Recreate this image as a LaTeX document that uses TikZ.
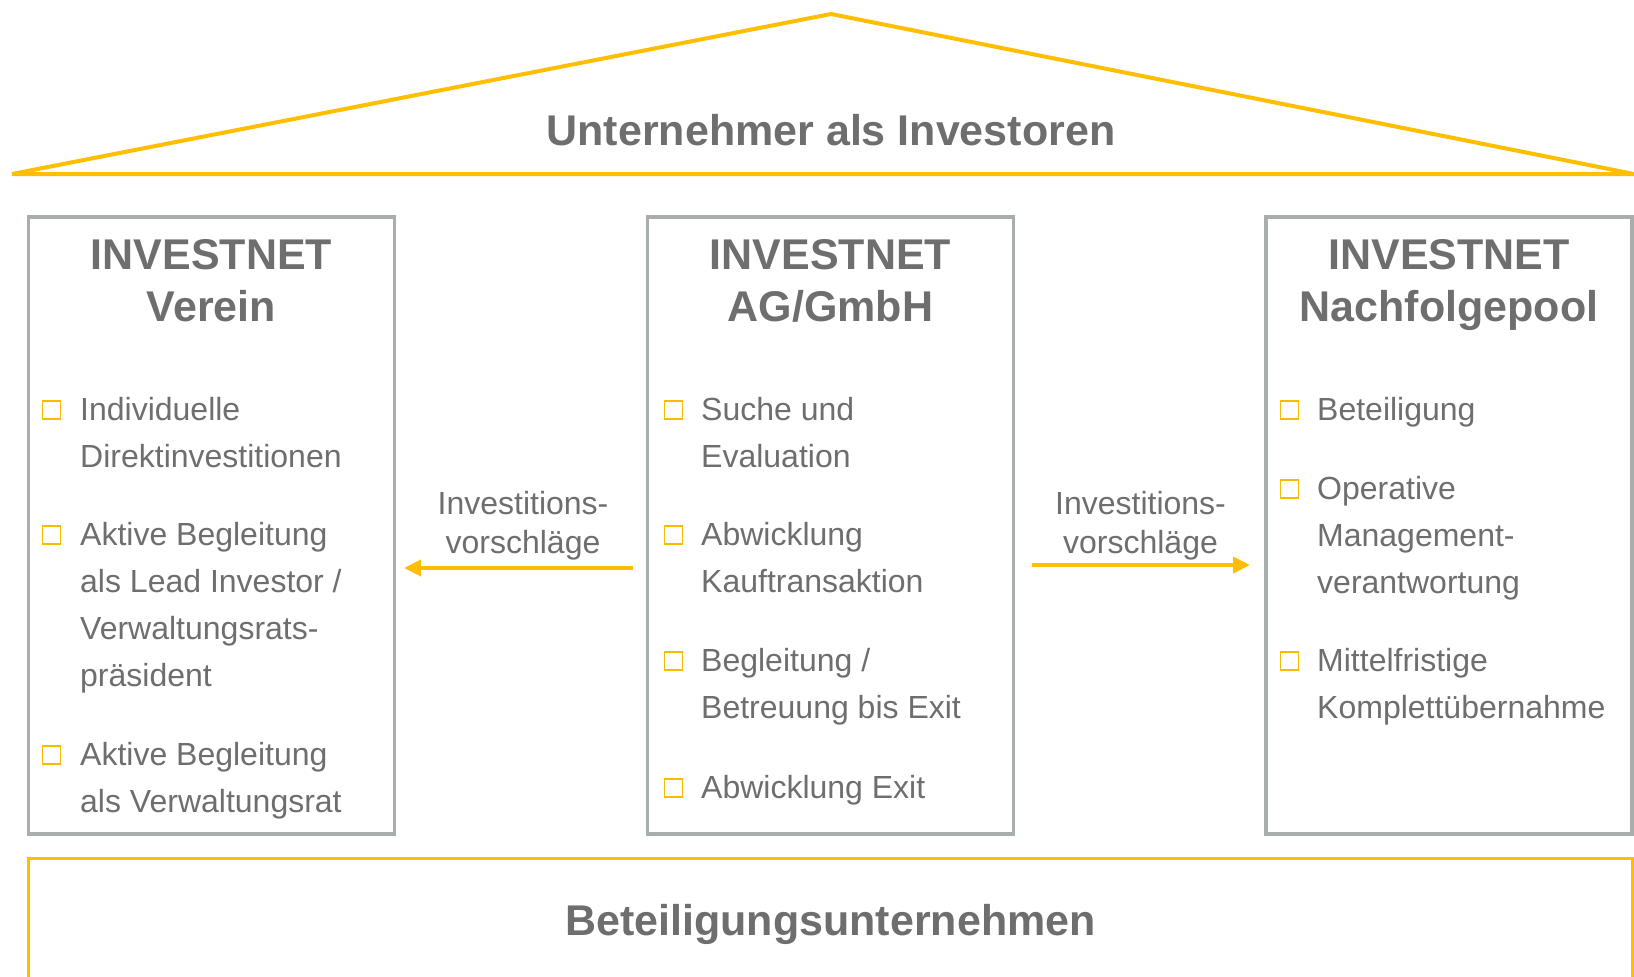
\documentclass[tikz,border=0pt]{standalone}
\usepackage{fontspec}
\setmainfont{Liberation Sans}
\usetikzlibrary{arrows.meta}
\definecolor{roofc}{HTML}{FFBE00}
\definecolor{boxgray}{HTML}{A8AEAC}
\definecolor{txt}{HTML}{6E6E6E}
\definecolor{bul}{HTML}{F7BC00}
\tikzset{
  bigtxt/.style={font=\fontsize{43}{52}\selectfont\bfseries, text=txt, inner sep=0pt, anchor=base},
  bodytxt/.style={font=\fontsize{32}{47}\selectfont, text=txt, inner sep=0pt, anchor=base west},
  lbltxt/.style={font=\fontsize{32}{38}\selectfont, text=txt, inner sep=0pt, anchor=base},
  pillar/.style={draw=boxgray, line width=3.5pt, minimum width=366pt, minimum height=617pt, inner sep=0pt},
  bsq/.style={draw=bul, line width=1.3pt, minimum size=18pt, inner sep=0pt},
  flow/.style={draw=roofc, line width=4pt, -{Triangle[length=17pt,width=16pt]}},
  roofline/.style={draw=roofc, line width=4pt, line join=miter},
}
\begin{document}
\begin{tikzpicture}[x=1pt,y=-1pt]
\useasboundingbox (0,0) rectangle (1634,977);

% roof
\coordinate (rl) at (12,174);
\coordinate (ra) at (831,14);
\coordinate (rr) at (1634,174);
\draw[roofline] (rl) -- (ra) -- (rr) -- cycle;
\node[bigtxt] (rooftitle) at (831,145.5) {Unternehmer als Investoren};

% pillars
\node[pillar] (verein) at (211.5,525.5) {};
\node[pillar] (ag) at (830.5,525.5) {};
\node[pillar] (pool) at (1449,525.5) {};

% headings
\node[bigtxt] (h1a) at (211.5,269.5) {INVESTNET};
\node[bigtxt] (h1b) at (211.5,321) {Verein};
\node[bigtxt] (h2a) at (830.5,269.5) {INVESTNET};
\node[bigtxt] (h2b) at (830.5,321) {AG/GmbH};
\node[bigtxt] (h3a) at (1449,269.5) {INVESTNET};
\node[bigtxt] (h3b) at (1449,321) {Nachfolgepool};

% left items
\node[bsq] (s11) at (51.5,410) {};
\node[bodytxt] (t11a) at (80,420) {Individuelle};
\node[bodytxt] (t11b) at (80,467) {Direktinvestitionen};
\node[bsq] (s12) at (51.5,535) {};
\node[bodytxt] (t12a) at (80,545) {Aktive Begleitung};
\node[bodytxt] (t12b) at (80,592) {als Lead Investor /};
\node[bodytxt] (t12c) at (80,639) {Verwaltungsrats-};
\node[bodytxt] (t12d) at (80,686) {präsident};
\node[bsq] (s13) at (51.5,755) {};
\node[bodytxt] (t13a) at (80,765) {Aktive Begleitung};
\node[bodytxt] (t13b) at (80,812) {als Verwaltungsrat};

% middle items
\node[bsq] (s21) at (673.5,410) {};
\node[bodytxt] (t21a) at (701,420) {Suche und};
\node[bodytxt] (t21b) at (701,467) {Evaluation};
\node[bsq] (s22) at (673.5,535) {};
\node[bodytxt] (t22a) at (701,545) {Abwicklung};
\node[bodytxt] (t22b) at (701,592) {Kauftransaktion};
\node[bsq] (s23) at (673.5,661) {};
\node[bodytxt] (t23a) at (701,671) {Begleitung /};
\node[bodytxt] (t23b) at (701,718) {Betreuung bis Exit};
\node[bsq] (s24) at (673.5,788) {};
\node[bodytxt] (t24a) at (701,798) {Abwicklung Exit};

% right items
\node[bsq] (s31) at (1289.5,410) {};
\node[bodytxt] (t31a) at (1317,420) {Beteiligung};
\node[bsq] (s32) at (1289.5,489) {};
\node[bodytxt] (t32a) at (1317,499) {Operative};
\node[bodytxt] (t32b) at (1317,546) {Management-};
\node[bodytxt] (t32c) at (1317,593) {verantwortung};
\node[bsq] (s33) at (1289.5,661) {};
\node[bodytxt] (t33a) at (1317,671) {Mittelfristige};
\node[bodytxt] (t33b) at (1317,718) {Komplettübernahme};

% arrows
\coordinate (a1s) at (632.5,568);
\coordinate (a1e) at (404,568);
\draw[flow] (a1s) -- (a1e);
\node[lbltxt] (l1a) at (523,514.5) {Investitions-};
\node[lbltxt] (l1b) at (523,553) {vorschläge};
\coordinate (a2s) at (1031.5,565);
\coordinate (a2e) at (1250,565);
\draw[flow] (a2s) -- (a2e);
\node[lbltxt] (l2a) at (1140.5,514.5) {Investitions-};
\node[lbltxt] (l2b) at (1140.5,553) {vorschläge};

% foundation
\coordinate (f1) at (28,1000);
\coordinate (f2) at (28,858);
\coordinate (f3) at (1632,858);
\coordinate (f4) at (1632,1000);
\draw[draw=roofc, line width=3pt] (f1) -- (f2) -- (f3) -- (f4);
\node[bigtxt] (found) at (830.5,935.5) {Beteiligungsunternehmen};
\end{tikzpicture}
\end{document}
